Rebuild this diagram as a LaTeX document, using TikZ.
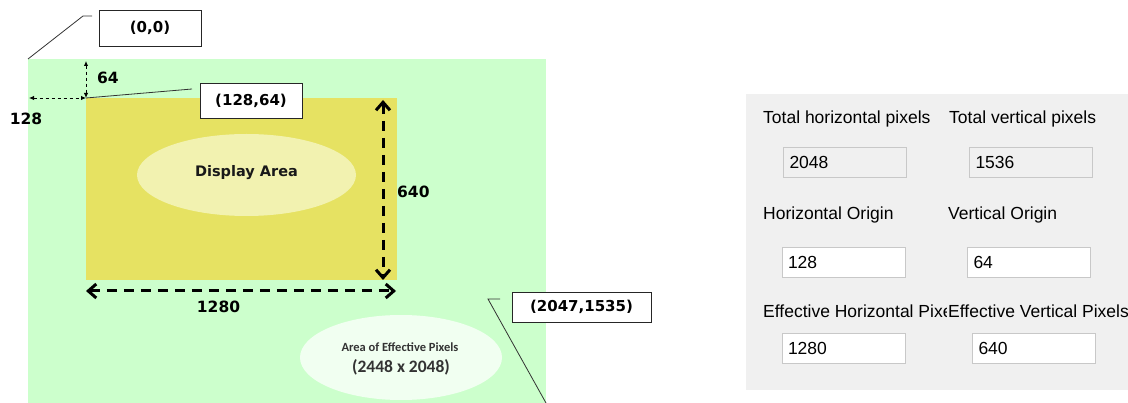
\documentclass[tikz,border=0pt]{standalone}
\usepackage{fontspec}
\setmainfont{DejaVu Sans}
\newfontfamily\uifont{Liberation Sans}
\newfontfamily\calfont{Carlito}
\usetikzlibrary{arrows.meta, shapes.geometric}

\definecolor{sensorgreen}{RGB}{204,255,204}
\definecolor{dispyellow}{RGB}{230,226,98}
\definecolor{dispoval}{RGB}{242,242,176}
\definecolor{effoval}{RGB}{241,255,241}
\definecolor{panelgray}{RGB}{240,240,240}
\definecolor{boxborder}{RGB}{200,200,200}

\tikzset{
  coordbox/.style={draw=black!85, fill=white, line width=0.9pt, inner sep=0pt, font=\bfseries\fontsize{15}{18}\selectfont},
  dimlabel/.style={font=\bfseries\fontsize{15.5}{18}\selectfont, inner sep=0pt},
  bigdim/.style={{Straight Barb[length=8pt,width=14pt]}-{Straight Barb[length=8pt,width=14pt]}, line width=3pt, dash pattern=on 10pt off 7pt},
  smalldim/.style={{Latex[length=5pt,width=4.5pt]}-{Latex[length=5pt,width=4.5pt]}, line width=0.9pt, dash pattern=on 3pt off 3pt},
  leader/.style={draw=black!80, line width=0.8pt},
  uilabel/.style={font=\uifont\fontsize{17.5}{20}\selectfont, anchor=west, inner sep=0pt},
  uibox/.style={draw=boxborder, fill=white, text width=111pt, inner xsep=6pt, inner ysep=0pt, minimum height=30pt, align=left, font=\uifont\fontsize{17.5}{20}\selectfont}
}

\begin{document}
\begin{tikzpicture}[x=1pt, y=-1pt]
\useasboundingbox (0,0) rectangle (1128,403);

% Sensor area and display area
\node[fill=sensorgreen, minimum width=518pt, minimum height=344pt, inner sep=0pt, outer sep=0pt] (sensor) at (287,231) {};
\node[fill=dispyellow, minimum width=311pt, minimum height=182pt, inner sep=0pt, outer sep=0pt] (disp) at (241.5,189) {};

% Ovals with texts
\node[ellipse, fill=dispoval, minimum width=219pt, minimum height=82pt, inner sep=0pt] (dispoval) at (246.5,175) {};
\node[font=\bfseries\fontsize{14.5}{17}\selectfont, text=black!90] (disptext) at (246.5,173) {Display Area};
\node[ellipse, fill=effoval, minimum width=202pt, minimum height=85pt, inner sep=0pt] (effoval) at (401,357.5) {};
\node[font=\calfont\bfseries\fontsize{12.5}{15}\selectfont, text=black!80] (efftext) at (400,347) {Area of Effective Pixels};
\node[font=\calfont\bfseries\fontsize{17.5}{20}\selectfont, text=black!80] (effsize) at (401,367) {(2448 x 2048)};

% Corner boxes and leader lines
\node[coordbox, minimum width=102pt, minimum height=36pt] (origin) at (150,28) {(0,0)};
\coordinate (originbend) at (83,16);
\draw[leader] (sensor.north west) -- (originbend) -- ++(9,0);

\node[coordbox, minimum width=102pt, minimum height=35pt] (start) at (251,100.5) {(128,64)};
\coordinate (startend) at (192,89);
\draw[leader] (disp.north west) -- (startend);

\node[coordbox, minimum width=139pt, minimum height=30pt] (last) at (581.5,307) {(2047,1535)};
\coordinate (lastbend) at (488,299);
\draw[leader] (sensor.south east) -- (lastbend) -- ++(12,0);

% Offsets from the origin
\coordinate (topmark) at (sensor.north west -| disp.north west);
\draw[smalldim] ([yshift=-2pt]topmark) -- (disp.north west);
\node[dimlabel, anchor=west] (offy) at (97,78) {64};
\coordinate (leftmark) at (sensor.north west |- disp.north west);
\draw[smalldim] ([xshift=1pt]leftmark) -- (disp.north west);
\node[dimlabel] (offx) at (26,119) {128};

% Size of the display area
\coordinate (vtop) at (383,100);
\coordinate (vbot) at (383,280);
\draw[bigdim] (vtop) -- (vbot);
\node[dimlabel, anchor=west] (height) at (397,192) {640};
\coordinate (hleft) at (86,291);
\coordinate (hright) at (396,291);
\draw[bigdim] (hleft) -- (hright);
\node[dimlabel] (width) at (218.5,307) {1280};

% Settings panel
\fill[panelgray] (746,94) rectangle (1128,390);
\node[uilabel] (tothlbl) at (763,119) {Total horizontal pixels};
\node[uilabel] (totvlbl) at (949,119) {Total vertical pixels};
\node[uibox, fill=panelgray] (toth) at (845,162) {2048};
\node[uibox, fill=panelgray] (totv) at (1031,162) {1536};

\node[uilabel] (orighlbl) at (763,215) {Horizontal Origin};
\node[uilabel] (origvlbl) at (948,215) {Vertical Origin};
\node[uibox] (origh) at (843.5,262) {128};
\node[uibox] (origv) at (1029,262) {64};

\begin{scope}
\clip (746,290) rectangle (946,330);
\node[uilabel] (effhlbl) at (763,311) {Effective Horizontal Pixels};
\end{scope}
\node[uilabel] (effvlbl) at (948,311) {Effective Vertical Pixels};
\node[uibox] (effh) at (843.5,348.5) {1280};
\node[uibox] (effv) at (1034,348.5) {640};
\end{tikzpicture}
\end{document}
